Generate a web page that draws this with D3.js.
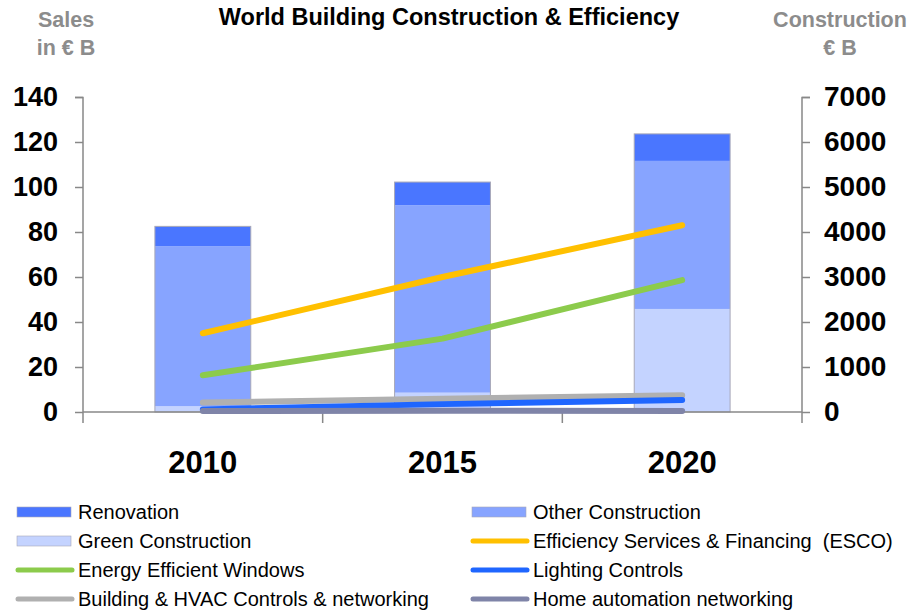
<!DOCTYPE html>
<html>
<head>
<meta charset="utf-8">
<script src="https://cdn.jsdelivr.net/npm/d3@7"></script>
<style>
  body { margin: 0; background: #fff; }
  svg { font-family: "Liberation Sans", Arial, sans-serif; }
</style>
</head>
<body>
<svg id="chart" width="907" height="613"></svg>
<script>
// Data
const years = ["2010", "2015", "2020"];

// stacked bars, right axis (Construction € B)
const greenConstruction = [130, 430, 2290];
const otherConstruction = [3555, 4165, 3290];
const renovation = [440, 515, 600];

// lines, left axis (Sales in € B)
const escoSales = [35, 60, 83];
const windowsSales = [16.3, 32.6, 58.6];
const hvacSales = [4.2, 5.9, 7.4];
const lightingSales = [1.1, 3.5, 5.3];
const homeSales = [0.4, 0.6, 0.4];

const leftTicks = [0, 20, 40, 60, 80, 100, 120, 140];
const rightTicks = [0, 1000, 2000, 3000, 4000, 5000, 6000, 7000];

const svg = d3.select("#chart");
const axisColor = "#888";

const x = d3.scaleBand().domain(years).range([83, 802]).paddingInner(0.6).paddingOuter(0.3);
const yL = d3.scaleLinear().domain([0, 140]).range([412, 97]);
const yR = d3.scaleLinear().domain([0, 7000]).range([412, 97]);

// titles
svg.append("text").attr("x", 449).attr("y", 25).attr("text-anchor", "middle")
  .attr("font-size", 23.5).attr("font-weight", "bold").attr("fill", "#000")
  .text("World Building Construction & Efficiency");

const gray = "#8c8c8c";
[["Sales", 66, 27], ["in € B", 66, 55], ["Construction", 840, 27], ["€ B", 840, 55]].forEach(t => {
  svg.append("text").attr("x", t[1]).attr("y", t[2]).attr("text-anchor", "middle")
    .attr("font-size", 21.5).attr("font-weight", "bold").attr("fill", gray).text(t[0]);
});

// stacked bars
const barSeries = [
  { name: "Green Construction", values: greenConstruction, color: "#C4D3FF" },
  { name: "Other Construction", values: otherConstruction, color: "#87A4FF" },
  { name: "Renovation", values: renovation, color: "#4A76FF" }
];
const stackRows = years.map((yr, i) => {
  const row = { year: yr };
  barSeries.forEach(s => row[s.name] = s.values[i]);
  return row;
});
const stacked = d3.stack().keys(barSeries.map(s => s.name))(stackRows);

svg.append("g").selectAll("g")
  .data(stacked)
  .join("g")
  .attr("fill", (d, i) => barSeries[i].color)
  .selectAll("rect")
  .data(d => d)
  .join("rect")
  .attr("x", d => x(d.data.year))
  .attr("width", x.bandwidth())
  .attr("y", d => yR(d[1]))
  .attr("height", d => yR(d[0]) - yR(d[1]));

// outline round each stack
const topLayer = stacked[stacked.length - 1];
svg.append("g").selectAll("rect")
  .data(topLayer)
  .join("rect")
  .attr("x", d => x(d.data.year))
  .attr("width", x.bandwidth())
  .attr("y", d => yR(d[1]))
  .attr("height", d => yR(0) - yR(d[1]))
  .attr("fill", "none")
  .attr("stroke", "#a8a8b8")
  .attr("stroke-width", 1);

// axes
const leftAxis = svg.append("g").attr("transform", "translate(83,0)")
  .call(d3.axisLeft(yL).tickValues(leftTicks).tickSize(8).tickPadding(17));
const rightAxis = svg.append("g").attr("transform", "translate(802,0)")
  .call(d3.axisRight(yR).tickValues(rightTicks).tickFormat(d3.format("d")).tickSize(8).tickPadding(14));
[leftAxis, rightAxis].forEach(g => {
  g.select(".domain").attr("stroke", axisColor).attr("stroke-width", 1.5)
    .attr("d", g === leftAxis ? "M-8,97.5H0V423" : "M8,97.5H0V423");
  g.selectAll(".tick line").attr("stroke", axisColor).attr("stroke-width", 1.5);
  g.selectAll(".tick text").attr("font-size", g === leftAxis ? 27 : 28).attr("font-weight", "bold")
    .attr("fill", "#000").attr("font-family", "Liberation Sans, Arial, sans-serif");
});

// x baseline + category ticks
svg.append("line").attr("x1", 83).attr("x2", 802).attr("y1", 412).attr("y2", 412)
  .attr("stroke", axisColor).attr("stroke-width", 1.5);
// band boundaries sit midway between neighbouring centres
const centres = years.map(yr => x(yr) + x.bandwidth() / 2);
const edges = [(centres[0] + centres[1]) / 2, (centres[1] + centres[2]) / 2];
svg.append("g").selectAll("line")
  .data(edges)
  .join("line")
  .attr("x1", d => d).attr("x2", d => d)
  .attr("y1", 412).attr("y2", 423)
  .attr("stroke", axisColor).attr("stroke-width", 1.5);

svg.append("g").selectAll("text")
  .data(years)
  .join("text")
  .attr("x", d => x(d) + x.bandwidth() / 2)
  .attr("y", 473)
  .attr("text-anchor", "middle")
  .attr("font-size", 31).attr("font-weight", "bold").attr("fill", "#000")
  .text(d => d);

// lines
const lineSeries = [
  { name: "Efficiency Services & Financing  (ESCO)", values: escoSales, color: "#FFC000" },
  { name: "Energy Efficient Windows", values: windowsSales, color: "#8CCB4C" },
  { name: "Building & HVAC Controls & networking", values: hvacSales, color: "#B0B0B0" },
  { name: "Lighting Controls", values: lightingSales, color: "#1F66FF" },
  { name: "Home automation networking", values: homeSales, color: "#7F84A8" }
];
const line = d3.line()
  .x((d, i) => x(years[i]) + x.bandwidth() / 2)
  .y(d => yL(d));
svg.append("g").selectAll("path")
  .data(lineSeries)
  .join("path")
  .attr("d", d => line(d.values))
  .attr("fill", "none")
  .attr("stroke", d => d.color)
  .attr("stroke-width", 6)
  .attr("stroke-linecap", "round")
  .attr("stroke-linejoin", "round");

// legend
const legendItems = [
  { name: "Renovation", color: "#4A76FF", type: "bar", col: 0, row: 0 },
  { name: "Other Construction", color: "#87A4FF", type: "bar", col: 1, row: 0 },
  { name: "Green Construction", color: "#C4D3FF", type: "bar", col: 0, row: 1 },
  { name: "Efficiency Services & Financing  (ESCO)", color: "#FFC000", type: "line", col: 1, row: 1 },
  { name: "Energy Efficient Windows", color: "#8CCB4C", type: "line", col: 0, row: 2 },
  { name: "Lighting Controls", color: "#1F66FF", type: "line", col: 1, row: 2 },
  { name: "Building & HVAC Controls & networking", color: "#B0B0B0", type: "line", col: 0, row: 3 },
  { name: "Home automation networking", color: "#7F84A8", type: "line", col: 1, row: 3 }
];
const colX = [16, 471];
const legend = svg.append("g").selectAll("g")
  .data(legendItems)
  .join("g")
  .attr("transform", d => `translate(${colX[d.col]},${512 + d.row * 29})`);
legend.filter(d => d.type === "bar").append("rect")
  .attr("x", 1).attr("y", -5).attr("width", 54).attr("height", 10)
  .attr("fill", d => d.color).attr("stroke", "#a8a8b8").attr("stroke-width", 0.6);
legend.filter(d => d.type === "line").append("line")
  .attr("x1", 2).attr("x2", 56).attr("y1", 0).attr("y2", 0)
  .attr("stroke", d => d.color).attr("stroke-width", 5).attr("stroke-linecap", "round");
legend.append("text")
  .attr("x", 62).attr("y", 7)
  .attr("font-size", 20).attr("fill", "#000")
  .attr("xml:space", "preserve")
  .text(d => d.name);
</script>
</body>
</html>
